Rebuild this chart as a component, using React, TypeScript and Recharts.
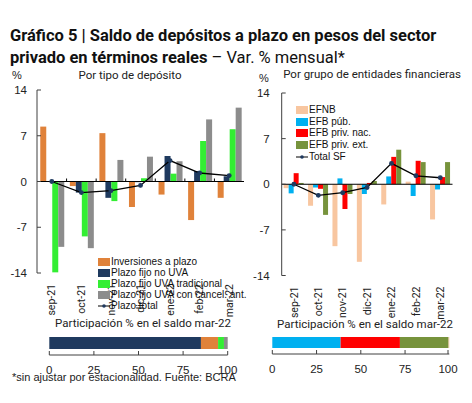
import React from "react";
import { BarChart, Bar, Line, XAxis, YAxis, ReferenceLine, Legend, ComposedChart } from "recharts";

// Var. % mensual, sep-21 a mar-22
const months = ["sep-21", "oct-21", "nov-21", "dic-21", "ene-22", "feb-22", "mar-22"];

const inversiones = [8.4, -0.7, 7.4, -3.9, -2.0, -5.9, -2.5];
const fijoNoUva = [0, -1.7, -2.5, -0.1, 3.9, 1.6, 0.8];
const uvaTradicional = [-13.9, -8.4, -3.0, 0.5, 1.2, 6.2, 8.0];
const uvaCancel = [-10.0, -10.2, 3.3, 3.8, 3.1, 9.5, 11.3];
const plazoTotal = [0, -1.7, -1.4, -0.6, 3.2, 1.3, 0.9];

const efnb = [-0.6, -3.3, -9.5, -11.9, -3.1, 0.4, -5.4];
const efbPub = [-1.4, -0.5, 0.9, -1.5, 1.2, -1.8, -0.8];
const efbPrivNac = [1.7, -0.7, -3.8, 0.2, 4.2, 3.6, 1.1];
const efbPrivExt = [0.2, -4.7, -1.5, 0.5, 5.3, 3.4, 3.4];
const totalSF = [0, -1.7, -1.3, -0.5, 3.2, 1.3, 1.0];

const yTicks = [-14, -7, 0, 7, 14];
const shareTicks = [0, 25, 50, 75, 100];

// Participación % en el saldo mar-22
const shareTipo = { noUva: 85.0, inversiones: 9.6, uvaTrad: 3.3, uvaCancel: 2.1 };
const shareGrupo = { pub: 38.6, nac: 33.5, ext: 27.5, efnb: 0.4 };

const tipoOrder = ["Inversiones a plazo", "Plazo fijo no UVA", "Plazo fijo UVA tradicional", "Plazo fijo UVA con cancel. ant.", "Plazo total"];
const grupoOrder = ["EFNB", "EFB púb.", "EFB priv. nac.", "EFB priv. ext.", "Total SF"];

const C = {
  orange: "#E0823A",
  navy: "#1F3A5F",
  green: "#33EE33",
  gray: "#8C8C8C",
  peach: "#F8C6A0",
  cyan: "#00B0F0",
  red: "#FF0000",
  olive: "#77933C",
  axis: "#404040",
};

const arial = "'Liberation Sans', Arial, sans-serif";
const roboto = "Roboto, 'Noto Sans', sans-serif";

const tipoData = months.map((m, i) => ({
  m,
  inversiones: inversiones[i],
  fijoNoUva: fijoNoUva[i],
  uvaTradicional: uvaTradicional[i],
  uvaCancel: uvaCancel[i],
  plazoTotal: plazoTotal[i],
}));

const grupoData = months.map((m, i) => ({
  m,
  efnb: efnb[i],
  efbPub: efbPub[i],
  efbPrivNac: efbPrivNac[i],
  efbPrivExt: efbPrivExt[i],
  totalSF: totalSF[i],
}));

function YTick(props: any) {
  const { x, y, payload, gap } = props;
  return (
    <g>
      <line x1={x} x2={x + 4} y1={y} y2={y} stroke={C.axis} />
      <text x={x - gap} y={y} dy="0.35em" textAnchor="end" fontSize={11.5} fontFamily={arial} fill="#222">
        {payload.value}
      </text>
    </g>
  );
}

function MonthTick(props: any) {
  const { x, y, payload } = props;
  return (
    <text
      x={x}
      y={y + 11}
      transform={`rotate(-90 ${x} ${y + 11})`}
      textAnchor="end"
      dy="0.35em"
      fontSize={10.5}
      fontFamily={roboto}
      fill="#222"
    >
      {payload.value}
    </text>
  );
}

function ShareTick(props: any) {
  const { x, y, payload } = props;
  return (
    <g>
      <line x1={x} x2={x} y1={y} y2={y - 4} stroke={C.axis} />
      <text x={x} y={y + 15} dy="0.35em" textAnchor="middle" fontSize={11.5} fontFamily={arial} fill="#222">
        {payload.value}
      </text>
    </g>
  );
}

// zero line with small ticks between categories
function zeroLine(withTicks: boolean) {
  return (props: any) => {
    const { x1, x2, y1 } = props;
    const step = (x2 - x1) / months.length;
    return (
      <g>
        <line x1={x1} x2={x2} y1={y1} y2={y1} stroke="#000" strokeWidth={1} />
        {withTicks &&
          months.slice(1).map((_, i) => (
            <line key={i} x1={x1 + step * (i + 1)} x2={x1 + step * (i + 1)} y1={y1} y2={y1 - 3} stroke="#000" />
          ))}
      </g>
    );
  };
}

function LegendBox(props: any) {
  const { payload, lineH, order } = props;
  const items = [...payload].sort((a: any, b: any) => order.indexOf(a.value) - order.indexOf(b.value));
  return (
    <div style={{ fontFamily: arial, fontSize: 10, color: "#111", lineHeight: `${lineH}px`, whiteSpace: "nowrap", textAlign: "left" }}>
      {items.map((p: any) => (
        <div key={p.value} style={{ display: "flex", alignItems: "center", height: lineH }}>
          {p.type === "line" ? (
            <svg width={12} height={8} style={{ marginRight: 1 }}>
              <line x1={0} x2={12} y1={4} y2={4} stroke="#000" />
              <circle cx={6} cy={4} r={1.8} fill={C.navy} />
            </svg>
          ) : (
            <span style={{ display: "inline-block", width: 12, height: 8, background: p.color, marginRight: 1 }} />
          )}
          <span>{p.value}</span>
        </div>
      ))}
    </div>
  );
}

function Title() {
  return (
    <div style={{ position: "absolute", left: 10, top: 25, fontFamily: roboto, fontSize: 16.5, lineHeight: "22px", color: "#111" }}>
      <div style={{ fontWeight: 700 }}>Gráfico 5 | Saldo de depósitos a plazo en pesos del sector</div>
      <div>
        <span style={{ fontWeight: 700 }}>privado en términos reales</span> – Var. % mensual*
      </div>
    </div>
  );
}

const label = (left: number, top: number, text: string, size = 11, font = roboto, width?: number) => (
  <div
    style={{
      position: "absolute",
      left,
      top,
      width,
      textAlign: width ? "center" : "left",
      fontFamily: font,
      fontSize: size,
      color: "#222",
      whiteSpace: "nowrap",
    }}
  >
    {text}
  </div>
);

export default function App() {
  return (
    <div style={{ position: "relative", width: 472, height: 403, background: "#fff", overflow: "hidden" }}>
      <style>{"body{margin:0}"}</style>
      <Title />

      {label(12, 69, "%", 11, arial)}
      {label(30, 68, "Por tipo de depósito", 11.5, roboto, 200)}
      {label(259, 72, "%", 11, arial)}
      {label(282, 67, "Por grupo de entidades financieras", 11.5, roboto, 180)}

      {/* Left: por tipo de depósito */}
      <div style={{ position: "absolute", left: 0, top: 80 }}>
        <ComposedChart width={250} height={243} data={tipoData} margin={{ top: 10, right: 6, left: 0, bottom: 0 }} barGap={0} barCategoryGap="11%">
          <XAxis dataKey="m" axisLine={false} tickLine={false} tickSize={0} tickMargin={0} height={50} tick={<MonthTick />} interval={0} />
          <YAxis
            domain={[-14, 14]}
            ticks={yTicks}
            width={37}
            tickSize={0}
            tickMargin={0}
            tickLine={false}
            axisLine={{ stroke: C.axis }}
            tick={<YTick gap={10} />}
          />
          <Bar dataKey="inversiones" name="Inversiones a plazo" fill={C.orange} isAnimationActive={false} />
          <Bar dataKey="fijoNoUva" name="Plazo fijo no UVA" fill={C.navy} isAnimationActive={false} />
          <Bar dataKey="uvaTradicional" name="Plazo fijo UVA tradicional" fill={C.green} isAnimationActive={false} />
          <Bar dataKey="uvaCancel" name="Plazo fijo UVA con cancel. ant." fill={C.gray} isAnimationActive={false} />
          <ReferenceLine y={0} shape={zeroLine(true)} />
          <Line
            dataKey="plazoTotal"
            name="Plazo total"
            type="linear"
            stroke="#000"
            strokeWidth={1.3}
            dot={{ r: 1.8, fill: C.navy, stroke: C.navy }}
            isAnimationActive={false}
            legendType="line"
          />
          <Legend
            layout="horizontal"
            verticalAlign="middle"
            content={<LegendBox lineH={11} order={tipoOrder} />}
            wrapperStyle={{ position: "absolute", left: 98, top: 176, width: "auto" }}
          />
        </ComposedChart>
      </div>

      {/* Right: por grupo de entidades financieras */}
      <div style={{ position: "absolute", left: 245, top: 83 }}>
        <ComposedChart width={215} height={243} data={grupoData} margin={{ top: 10, right: 7.5, left: 0, bottom: 0 }} barGap={0} barCategoryGap="8%">
          <XAxis dataKey="m" axisLine={false} tickLine={false} tickSize={0} tickMargin={0} height={50.5} tick={<MonthTick />} interval={0} />
          <YAxis
            domain={[-14, 14]}
            ticks={yTicks}
            width={36.7}
            tickSize={0}
            tickMargin={0}
            tickLine={false}
            axisLine={{ stroke: C.axis }}
            tick={<YTick gap={12} />}
          />
          <Bar dataKey="efnb" name="EFNB" fill={C.peach} isAnimationActive={false} />
          <Bar dataKey="efbPub" name="EFB púb." fill={C.cyan} isAnimationActive={false} />
          <Bar dataKey="efbPrivNac" name="EFB priv. nac." fill={C.red} isAnimationActive={false} />
          <Bar dataKey="efbPrivExt" name="EFB priv. ext." fill={C.olive} isAnimationActive={false} />
          <ReferenceLine y={0} shape={zeroLine(false)} />
          <Line
            dataKey="totalSF"
            name="Total SF"
            type="linear"
            stroke="#000"
            strokeWidth={1.3}
            dot={{ r: 1.8, fill: C.navy, stroke: C.navy }}
            isAnimationActive={false}
            legendType="line"
          />
          <Legend
            layout="horizontal"
            verticalAlign="middle"
            content={<LegendBox lineH={11.7} order={grupoOrder} />}
            wrapperStyle={{ position: "absolute", left: 51, top: 21, width: "auto" }}
          />
        </ComposedChart>
      </div>

      {label(10, 316, "Participación % en el saldo mar-22", 11.5, roboto, 266)}
      {label(232, 317, "Participación % en el saldo mar-22", 11.5, roboto, 266)}

      {/* Bottom left share bar */}
      <div style={{ position: "absolute", left: 0, top: 330 }}>
        <BarChart width={240} height={56} layout="vertical" data={[{ k: "mar-22", ...shareTipo }]} margin={{ top: 0, right: 12.3, left: 49.3, bottom: 0 }}>
          <XAxis type="number" domain={[0, 100]} ticks={shareTicks} height={31} axisLine={{ stroke: C.axis }} tickLine={false} tickSize={0} tickMargin={0} tick={<ShareTick />} />
          <YAxis type="category" dataKey="k" width={0} tick={false} tickLine={false} axisLine={{ stroke: C.axis }} />
          <Bar dataKey="noUva" stackId="s" fill={C.navy} barSize={12} isAnimationActive={false} />
          <Bar dataKey="inversiones" stackId="s" fill={C.orange} barSize={12} isAnimationActive={false} />
          <Bar dataKey="uvaTrad" stackId="s" fill={C.green} barSize={12} isAnimationActive={false} />
          <Bar dataKey="uvaCancel" stackId="s" fill={C.gray} barSize={12} isAnimationActive={false} />
        </BarChart>
      </div>

      {/* Bottom right share bar */}
      <div style={{ position: "absolute", left: 240, top: 331 }}>
        <BarChart width={220} height={54} layout="vertical" data={[{ k: "mar-22", ...shareGrupo }]} margin={{ top: 0, right: 10.7, left: 32.3, bottom: 0 }}>
          <XAxis type="number" domain={[0, 100]} ticks={shareTicks} height={31} axisLine={{ stroke: C.axis }} tickLine={false} tickSize={0} tickMargin={0} tick={<ShareTick />} />
          <YAxis type="category" dataKey="k" width={0} tick={false} tickLine={false} axisLine={{ stroke: C.axis }} />
          <Bar dataKey="pub" stackId="s" fill={C.cyan} barSize={11} isAnimationActive={false} />
          <Bar dataKey="nac" stackId="s" fill={C.red} barSize={11} isAnimationActive={false} />
          <Bar dataKey="ext" stackId="s" fill={C.olive} barSize={11} isAnimationActive={false} />
          <Bar dataKey="efnb" stackId="s" fill={C.peach} barSize={11} isAnimationActive={false} />
        </BarChart>
      </div>

      {label(12, 371, "*sin ajustar por estacionalidad. Fuente: BCRA", 11, arial)}
    </div>
  );
}
